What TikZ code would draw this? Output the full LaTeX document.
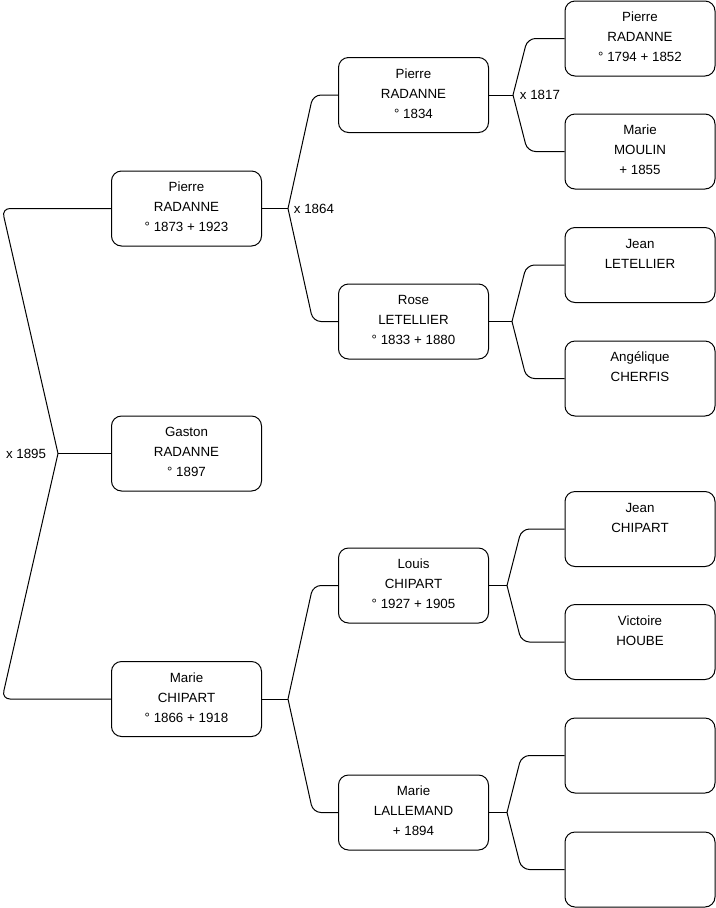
\documentclass[tikz,border=0pt]{standalone}
\usepackage{fontspec}
\setmainfont{Liberation Sans}
\tikzset{
  person/.style={draw, line width=0.75pt, rounded corners=7.5pt, minimum width=112.5pt, minimum height=56.25pt,
    align=center, inner sep=0pt, text depth=2.2pt, font=\fontsize{10}{15}\selectfont},
  link/.style={line width=0.75pt, rounded corners=6pt},
  wed/.style={inner sep=2pt, font=\fontsize{10}{12}\selectfont}
}
\begin{document}
\begin{tikzpicture}[x=0.75pt,y=-0.75pt]
\useasboundingbox (0,0) rectangle (716,908);
% children
\node[person] (pierre1873) at (186.5,208.5) {Pierre\\RADANNE\\° 1873 + 1923};
\node[person] (gaston) at (186.5,453.5) {Gaston\\RADANNE\\° 1897};
\node[person] (marie1866) at (186.5,699) {Marie\\CHIPART\\° 1866 + 1918};
% parents
\node[person] (pierre1834) at (413.5,95) {Pierre\\RADANNE\\° 1834};
\node[person] (rose) at (413.5,321.5) {Rose\\LETELLIER\\° 1833 + 1880};
\node[person] (louis) at (413.5,585.5) {Louis\\CHIPART\\° 1927 + 1905};
\node[person] (lallemand) at (413.5,812.5) {Marie\\LALLEMAND\\+ 1894};
% grandparents
\node[person] (pierre1794) at (640,38.5) {Pierre\\RADANNE\\° 1794 + 1852};
\node[person] (moulin) at (640,151.5) {Marie\\MOULIN\\+ 1855};
\node[person] (jeanL) at (640,265) {Jean\\LETELLIER\\\mbox{}};
\node[person] (cherfis) at (640,378.5) {Angélique\\CHERFIS\\\mbox{}};
\node[person] (jeanC) at (640,529) {Jean\\CHIPART\\\mbox{}};
\node[person] (hoube) at (640,642) {Victoire\\HOUBE\\\mbox{}};
\node[person] (unk1) at (640,755.5) {};
\node[person] (unk2) at (640,869.5) {};
% marriages
\coordinate (m1895) at (58,453.5); \coordinate (m1864) at (288,208.5); \coordinate (mChipart) at (288,699);
\coordinate (m1817) at (513,95); \coordinate (mLetellier) at (512,321.5);
\coordinate (mLouis) at (507,585.5); \coordinate (mLallemand) at (507,812.5);
\draw[link] (pierre1873.west) -- ++(-109,0) -- (m1895); \draw[link] (marie1866.west) -- ++(-109,0) -- (m1895);
\draw[link] (m1895) -- (gaston.west);
\draw[link] (pierre1834.west) -- ++(-25,0) -- (m1864); \draw[link] (rose.west) -- ++(-25,0) -- (m1864);
\draw[link] (m1864) -- (pierre1873.east);
\draw[link] (louis.west) -- ++(-25,0) -- (mChipart); \draw[link] (lallemand.west) -- ++(-25,0) -- (mChipart);
\draw[link] (mChipart) -- (marie1866.east);
\draw[link] (pierre1794.west) -- ++(-37,0) -- (m1817); \draw[link] (moulin.west) -- ++(-37,0) -- (m1817);
\draw[link] (m1817) -- (pierre1834.east);
\draw[link] (jeanL.west) -- ++(-38,0) -- (mLetellier); \draw[link] (cherfis.west) -- ++(-38,0) -- (mLetellier);
\draw[link] (mLetellier) -- (rose.east);
\draw[link] (jeanC.west) -- ++(-43,0) -- (mLouis); \draw[link] (hoube.west) -- ++(-43,0) -- (mLouis);
\draw[link] (mLouis) -- (louis.east);
\draw[link] (unk1.west) -- ++(-43,0) -- (mLallemand); \draw[link] (unk2.west) -- ++(-43,0) -- (mLallemand);
\draw[link] (mLallemand) -- (lallemand.east);
\node[wed, anchor=east] (l1895) at (49,453.5) {x 1895};
\node[wed, anchor=west] (l1864) at (291,208.5) {x 1864};
\node[wed, anchor=west] (l1817) at (517,95) {x 1817};
\end{tikzpicture}
\end{document}
